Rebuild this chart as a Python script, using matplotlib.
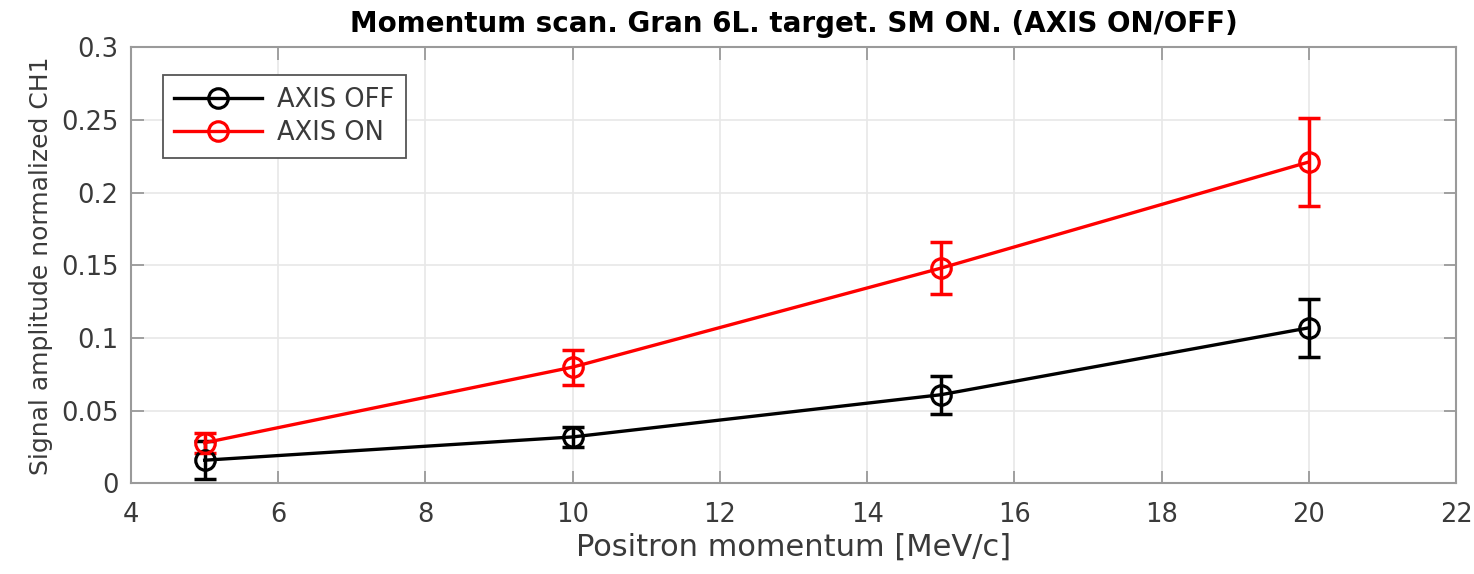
import matplotlib
matplotlib.use("Agg")
import matplotlib.pyplot as plt
from matplotlib.ticker import FuncFormatter

momentum = [5, 10, 15, 20]
axis_off = [0.016, 0.032, 0.061, 0.107]
axis_off_err = [0.013, 0.007, 0.013, 0.020]
axis_on = [0.028, 0.080, 0.148, 0.221]
axis_on_err = [0.007, 0.012, 0.018, 0.030]

plt.rcParams['font.family'] = ['DejaVu Sans']

fig = plt.figure(figsize=(14.74, 5.74), dpi=100)
ax = fig.add_axes([0.0889, 0.1577, 0.8989, 0.7603])

styles = [(axis_off, axis_off_err, 'black', 'AXIS OFF'),
          (axis_on, axis_on_err, '#ff0000', 'AXIS ON')]
for vals, errs, col, lab in styles:
    ax.errorbar(momentum, vals, yerr=errs, fmt='none', ecolor=col,
                elinewidth=2.5, capsize=8, capthick=2.5, zorder=3)
    ax.plot(momentum, vals, color=col, marker='o', markersize=14,
            markerfacecolor='none', markeredgewidth=2.3, linewidth=2.4,
            label=lab, zorder=4)

ax.set_xlim(4, 22)
ax.set_ylim(0, 0.3)
ax.set_xticks(range(4, 23, 2))
ax.set_yticks([0, 0.05, 0.1, 0.15, 0.2, 0.25, 0.3])
ax.yaxis.set_major_formatter(FuncFormatter(lambda v, p: ('%g' % round(v, 3))))

ax.grid(True, color='#e8e8e8', linewidth=1.2)
ax.set_axisbelow(True)
for s in ax.spines.values():
    s.set_color('#9a9a9a')
    s.set_linewidth(1.5)
ax.tick_params(direction='in', length=9, width=1.3, color='#9a9a9a', labelsize=18.5,
               labelcolor='#3a3a3a', top=True, right=True, pad=9)
ax.tick_params(axis='x', pad=13)

ax.set_xlabel('Positron momentum [MeV/c]', fontsize=22, color='#3a3a3a', labelpad=4)
ax.set_ylabel('Signal amplitude normalized CH1', fontsize=18, color='#3a3a3a', labelpad=6)
ax.set_title('Momentum scan. Gran 6L. target. SM ON. (AXIS ON/OFF)', fontsize=20,
             fontweight='bold', color='black', pad=11)

leg = ax.legend(loc='upper left', bbox_to_anchor=(0.0142, 0.965), fontsize=18.5,
                frameon=True, fancybox=False, edgecolor='#555555', handlelength=3.4,
                borderpad=0.45, labelspacing=0.3, handletextpad=0.6, framealpha=1)
leg.get_frame().set_linewidth(1.3)
for t in leg.get_texts():
    t.set_color('#3a3a3a')

fig.savefig('out.png', dpi=100)
